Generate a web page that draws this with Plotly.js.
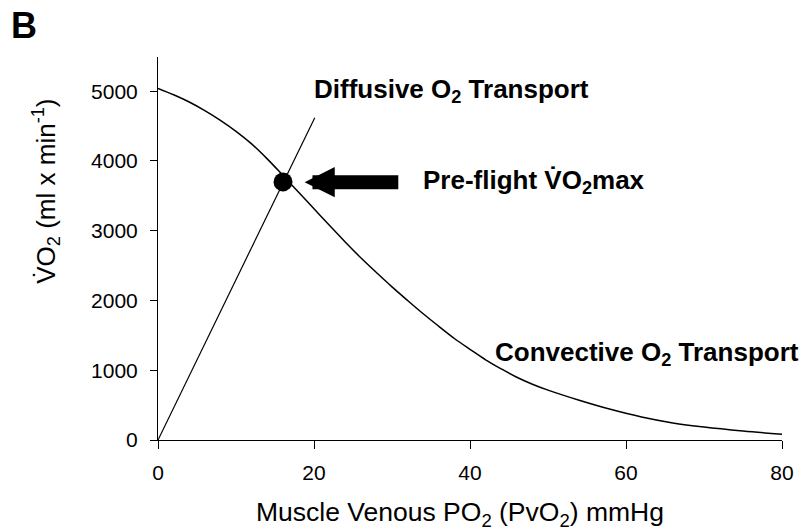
<!DOCTYPE html>
<html>
<head>
<meta charset="utf-8">
<script src="https://cdn.plot.ly/plotly-3.0.1.min.js"></script>
<style>html,body{margin:0;padding:0;background:#fff;}#chart{width:812px;height:532px;}</style>
</head>
<body>
<div id="chart"></div>
<script>
// Convective O2 transport curve (PvO2 mmHg -> VO2 ml/min)
const convX = [0, 2, 4, 6, 8, 10, 12, 14, 16, 18, 20, 22, 24, 26, 28, 30, 32, 34, 36, 38, 40, 42, 44, 46, 48, 50, 54, 58, 62, 66, 70, 75, 80];
const convY = [5040, 4948, 4845, 4722, 4582, 4425, 4245, 4030, 3795, 3555, 3315, 3075, 2838, 2612, 2400, 2195, 2000, 1810, 1630, 1455, 1300, 1150, 1020, 900, 800, 715, 570, 440, 330, 245, 185, 128, 82];
// Diffusive O2 transport line
const diffX = [0, 20.1];
const diffY = [0, 4620];
// Pre-flight VO2max point
const maxX = [16.03];
const maxY = [3700];
// Axis ticks
const xTicks = [0, 20, 40, 60, 80];
const yTicks = [0, 1000, 2000, 3000, 4000, 5000];

const FONT = 'Liberation Sans, Arial, sans-serif';

const traces = [
  {x: convX, y: convY, mode: 'lines', line: {color: '#000', width: 1.5, shape: 'spline', smoothing: 1}, hoverinfo: 'skip'},
  {x: diffX, y: diffY, mode: 'lines', line: {color: '#000', width: 1.2}, hoverinfo: 'skip'},
  {x: maxX, y: maxY, mode: 'markers', marker: {color: '#000', size: 19, symbol: 'circle'}, hoverinfo: 'skip'}
];

const annFont = {family: FONT, size: 26, color: '#000'};
const layout = {
  width: 812, height: 532,
  margin: {l: 158, r: 30, t: 57, b: 92, pad: 0},
  paper_bgcolor: '#fff', plot_bgcolor: '#fff',
  showlegend: false,
  font: {family: FONT, color: '#000'},
  xaxis: {
    range: [0, 80], tickvals: xTicks, ticktext: xTicks.map(String),
    showgrid: false, zeroline: false, showline: true, linecolor: '#000', linewidth: 1,
    ticks: 'outside', ticklen: 8, tickwidth: 1, tickcolor: '#000',
    tickfont: {family: FONT, size: 21, color: '#000'}, ticklabelstandoff: 6
  },
  yaxis: {
    range: [0, 5490], tickvals: yTicks, ticktext: yTicks.map(String),
    showgrid: false, zeroline: false, showline: true, linecolor: '#000', linewidth: 1,
    ticks: 'outside', ticklen: 7, tickwidth: 1, tickcolor: '#000',
    tickfont: {family: FONT, size: 21, color: '#000'}, ticklabelstandoff: 8
  },
  annotations: [
    {xref: 'paper', yref: 'paper', x: -0.239, y: 1.14, xanchor: 'left', yanchor: 'top',
     text: '<b>B</b>', showarrow: false, font: {family: FONT, size: 36, color: '#000'}},
    {xref: 'x', yref: 'y', x: 19.7, y: 5010, xanchor: 'left', yanchor: 'middle',
     text: '<b>Diffusive O<sub>2</sub> Transport</b>', showarrow: false, font: annFont},
    {xref: 'x', yref: 'y', x: 33.7, y: 3700, xanchor: 'left', yanchor: 'middle',
     text: '<b>Pre-flight V\u0307O<sub>2</sub>max</b>', showarrow: false, font: annFont},
    {xref: 'x', yref: 'y', x: 42.9, y: 1240, xanchor: 'left', yanchor: 'middle',
     text: '<b>Convective O<sub>2</sub> Transport</b>', showarrow: false, font: annFont},
    {xref: 'x', yref: 'y', x: 18.8, y: 3696, axref: 'x', ayref: 'y', ax: 31.0, ay: 3696,
     text: '', showarrow: true, arrowhead: 2, arrowsize: 0.43, arrowwidth: 14, arrowcolor: '#000', standoff: 0},
    {xref: 'paper', yref: 'paper', x: 0.484, y: -0.194, xanchor: 'center', yanchor: 'middle',
     text: 'Muscle Venous PO<sub>2</sub> (PvO<sub>2</sub>) mmHg', showarrow: false,
     font: {family: FONT, size: 26.5, color: '#000'}},
    {xref: 'paper', yref: 'paper', x: -0.18, y: 0.65, xanchor: 'center', yanchor: 'middle', textangle: -90,
     text: 'V\u0307O<sub>2</sub> (ml x min<sup>-1</sup>)', showarrow: false,
     font: {family: FONT, size: 26, color: '#000'}}
  ]
};

Plotly.newPlot('chart', traces, layout, {staticPlot: true, displayModeBar: false});
</script>
</body>
</html>
